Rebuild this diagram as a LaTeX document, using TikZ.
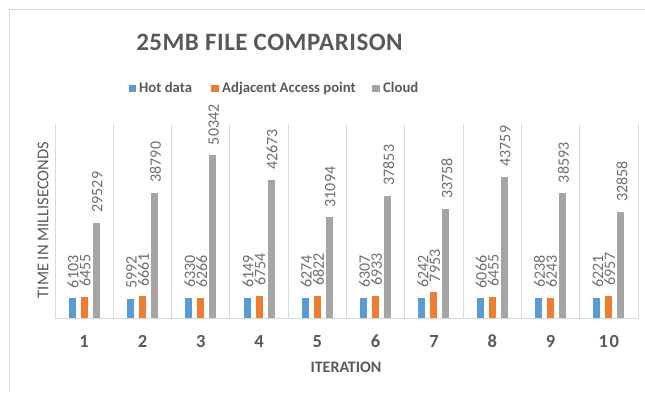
\documentclass[tikz,border=0pt]{standalone}
\usepackage{fontspec}
\setmainfont{Carlito}
\definecolor{cblue}{HTML}{5B9BD5}
\definecolor{corange}{HTML}{ED7D31}
\definecolor{cgray}{HTML}{A5A5A5}
\definecolor{tgray}{HTML}{595959}
\definecolor{lgray}{HTML}{6E6E6E}
\definecolor{gridc}{HTML}{D9D9D9}
\tikzset{
  dlabel/.style={rotate=90,anchor=west,inner sep=0pt,text=lgray,font=\fontsize{16}{18}\selectfont},
  catlabel/.style={anchor=base,inner sep=0pt,text=tgray,font=\bfseries\fontsize{18.5}{20}\selectfont},
  legtext/.style={anchor=base west,inner sep=0pt,text=tgray,font=\bfseries\fontsize{14.7}{17}\selectfont},
  axtitle/.style={inner sep=0pt,text=tgray,font=\fontsize{16.5}{18}\selectfont},
  gridline/.style={draw=gridc,line width=1pt}
}
\begin{document}
\begin{tikzpicture}[x=1pt,y=-1pt]
\useasboundingbox (0,0) rectangle (645,392);
% frame
\draw[gridc,line width=1.3pt] (9.5,392) -- (9.5,9.5) -- (645,9.5);
% title
\node[inner sep=0pt,text=tgray,font=\bfseries\fontsize{25}{28}\selectfont\addfontfeature{LetterSpace=2}] (title) at (269.5,42) {25MB FILE COMPARISON};
% legend
\fill[cblue] (128.5,84.5) rectangle (136,92);
\node[legtext] (lhot) at (139,92.5) {Hot data};
\fill[corange] (211,84.5) rectangle (218.5,92);
\node[legtext] (ladj) at (222,92.5) {Adjacent Access point};
\fill[cgray] (372,84.5) rectangle (379.5,92);
\node[legtext] (lcloud) at (383,92.5) {Cloud};
% grid
\foreach \k in {0,...,10}{
  \draw[gridline] ({55+\k*58.3},124) -- ({55+\k*58.3},318);
}
\draw[gridline] (55,318) -- (638,318);
% bars: index/label/valA/valB/valC/hA/hB/hC
\foreach \i/\lab/\va/\vb/\vc/\ha/\hb/\hc in {
  1/1/6103/6455/29529/19.73/20.87/95.47,
  2/2/5992/6661/38790/19.37/21.54/125.41,
  3/3/6330/6266/50342/20.46/20.26/162.76,
  4/4/6149/6754/42673/19.88/21.84/137.96,
  5/5/6274/6822/31094/20.28/22.06/100.53,
  6/6/6307/6933/37853/20.39/22.41/122.38,
  7/7/6242/7953/33758/20.18/25.71/109.14,
  8/8/6066/6455/43759/19.61/20.87/141.47,
  9/9/6238/6243/38593/20.17/20.18/124.77,
  10/{1\kern1.5pt 0}/6221/6957/32858/20.11/22.49/106.23}{
  \pgfmathsetmacro\cx{55+(\i-0.5)*58.3}
  \fill[cblue] ({\cx-15.5},318) rectangle ({\cx-8.5},{318-\ha});
  \fill[corange] ({\cx-3.5},318) rectangle ({\cx+3.5},{318-\hb});
  \fill[cgray] ({\cx+8.5},318) rectangle ({\cx+15.5},{318-\hc});
  \node[dlabel] (da\i) at ({\cx-11},{308-\ha}) {\va};
  \node[dlabel] (db\i) at ({\cx+1},{308-\hb}) {\vb};
  \node[dlabel] (dc\i) at ({\cx+13},{308-\hc}) {\vc};
  \node[catlabel] (cat\i) at (\cx,347) {\lab};
}
% axis titles
\node[axtitle,font=\bfseries\fontsize{16}{18}\selectfont] (xt) at (346,367) {ITERATION};
\node[axtitle,rotate=90] (yt) at (43,220) {TIME IN MILLISECONDS};
\end{tikzpicture}
\end{document}
